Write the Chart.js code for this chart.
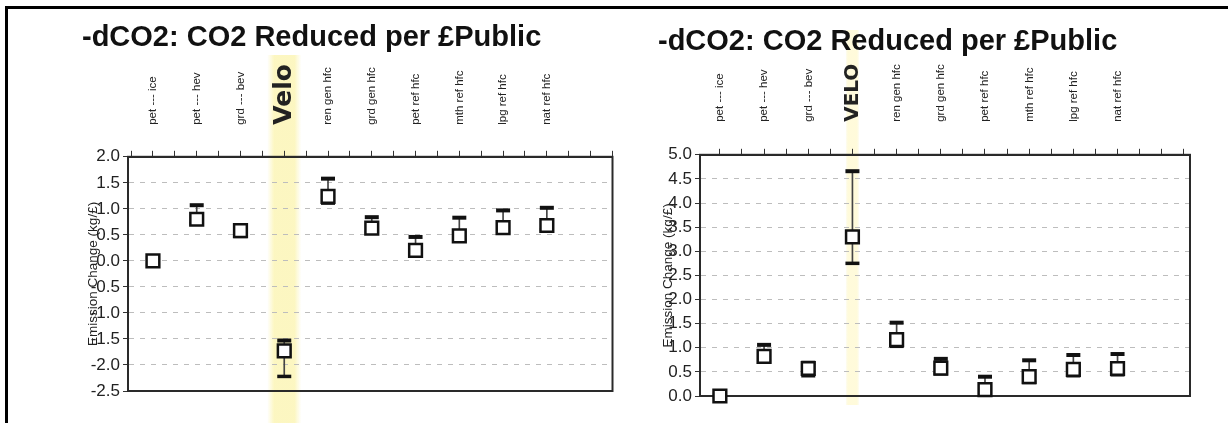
<!DOCTYPE html>
<html>
<head>
<meta charset="utf-8">
<script src="https://cdn.jsdelivr.net/npm/chart.js@4.4.1/dist/chart.umd.min.js"></script>
<style>
  html, body { margin: 0; padding: 0; background: #fff; }
  body { width: 1228px; height: 423px; position: relative; overflow: hidden; font-family: "Liberation Sans", Arial, sans-serif; }
  .frame { position: absolute; left: 5px; top: 6px; right: 0; bottom: 0; border-left: 3px solid #000; border-top: 3px solid #000; }
  .box { position: absolute; top: 10px; height: 413px; }
  #left { left: 10px; width: 614px; }
  #right { left: 614px; width: 614px; }
</style>
</head>
<body>
<div class="frame"></div>
<div class="box" id="left"><canvas id="chartLeft"></canvas></div>
<div class="box" id="right"><canvas id="chartRight"></canvas></div>

<script>
// --- DATA ---
const categoriesLeft = ['pet --- ice', 'pet --- hev', 'grd --- bev', 'Velo', 'ren gen hfc', 'grd gen hfc', 'pet ref hfc', 'mth ref hfc', 'lpg ref hfc', 'nat ref hfc'];
const categoriesRight = ['pet --- ice', 'pet --- hev', 'grd --- bev', 'VELO', 'ren gen hfc', 'grd gen hfc', 'pet ref hfc', 'mth ref hfc', 'lpg ref hfc', 'nat ref hfc'];

const leftMid  = [0.00, 0.80, 0.58, -1.73, 1.24, 0.63, 0.20, 0.48, 0.64, 0.68];
const leftHigh = [0.06, 1.07, 0.68, -1.53, 1.58, 0.84, 0.46, 0.83, 0.97, 1.02];
const leftLow  = [-0.07, 0.72, 0.47, -2.22, 1.11, 0.55, 0.12, 0.40, 0.55, 0.60];

const rightMid  = [0.00, 0.82, 0.57, 3.30, 1.17, 0.58, 0.13, 0.40, 0.55, 0.57];
const rightHigh = [0.03, 1.06, 0.69, 4.66, 1.52, 0.77, 0.40, 0.74, 0.85, 0.87];
const rightLow  = [-0.03, 0.72, 0.42, 2.75, 1.03, 0.46, 0.02, 0.28, 0.42, 0.44];

const chartTitle = '-dCO2: CO2 Reduced per £Public';
const yTitle = 'Emission Change (kg/£)';
const highlightIndex = 3;

// --- PLUGINS ---
const highlighter = {
  id: 'highlighter',
  beforeDraw(chart, args, opts) {
    const { ctx, scales: { x } } = chart;
    const cx = x.getPixelForValue(highlightIndex);
    const g = ctx.createLinearGradient(cx - opts.width / 2, 0, cx + opts.width / 2, 0);
    g.addColorStop(0, 'rgba(252,246,190,0)');
    g.addColorStop(0.2, opts.color);
    g.addColorStop(0.8, opts.color);
    g.addColorStop(1, 'rgba(252,246,190,0)');
    ctx.save();
    ctx.fillStyle = g;
    ctx.fillRect(cx - opts.width / 2, opts.top, opts.width, opts.bottom - opts.top);
    ctx.restore();
  }
};

const plotFrame = {
  id: 'plotFrame',
  beforeDatasetsDraw(chart) {
    const { ctx, chartArea: a } = chart;
    ctx.save();
    ctx.strokeStyle = '#2a2a2a';
    ctx.lineWidth = 2;
    ctx.strokeRect(a.left, a.top, a.right - a.left, a.bottom - a.top);
    ctx.restore();
  }
};

function makeChart(id, cats, mid, high, low, s) {
  const pts = arr => arr.map((v, i) => ({ x: i, y: v }));
  return new Chart(document.getElementById(id), {
    type: 'bar',
    data: {
      datasets: [
        { type: 'line', showLine: false, data: pts(mid), pointStyle: 'rect', pointRadius: s.box,
          pointBackgroundColor: '#fff', pointBorderColor: '#111', pointBorderWidth: 2.5, clip: false },
        { type: 'line', showLine: false, data: pts(high), pointStyle: 'line', pointRadius: 7,
          pointBorderColor: '#111', pointBorderWidth: 4, clip: false },
        { type: 'line', showLine: false, data: pts(low), pointStyle: 'line', pointRadius: 7,
          pointBorderColor: '#111', pointBorderWidth: 3.5, clip: false },
        { type: 'bar', data: low.map((v, i) => ({ x: i, y: [v, high[i]] })), backgroundColor: '#444',
          barThickness: 1, clip: false }
      ]
    },
    options: {
      responsive: true,
      maintainAspectRatio: false,
      animation: false,
      events: [],
      layout: { padding: s.pad },
      plugins: {
        legend: { display: false },
        tooltip: { enabled: false },
        title: {
          display: true, text: chartTitle, align: 'start', color: '#111',
          font: { family: 'Liberation Sans', size: 29, weight: 'bold' },
          padding: { top: s.titleTop, bottom: 0 }
        },
        highlighter: s.band
      },
      scales: {
        x: {
          type: 'linear', position: 'top', min: s.xMin, max: s.xMax, offset: false,
          afterFit: sc => { sc.height = s.xHeight; sc.paddingLeft = 0; sc.paddingRight = 0; },
          grid: { drawOnChartArea: false, drawTicks: true, tickLength: 6, tickColor: '#333', offset: false },
          border: { display: true, color: '#2a2a2a', width: 2 },
          ticks: {
            stepSize: 0.5, includeBounds: false, autoSkip: false, labelOffset: 14,
            minRotation: 90, maxRotation: 90, padding: s.labelPad, color: '#222',
            callback: v => Number.isInteger(v) && cats[v] ? cats[v] : '',
            font: c => c.tick && c.tick.value === highlightIndex
              ? { family: 'DejaVu Sans', size: s.markSize, weight: 'bold', lineHeight: 13.8 / s.markSize }
              : { family: 'Liberation Sans', size: 11.5, lineHeight: 1.2 }
          }
        },
        y: {
          min: s.yMin, max: s.yMax,
          afterFit: sc => { sc.width = s.yWidth; },
          grid: { color: '#bdbdbd', lineWidth: 1, tickLength: 5, tickColor: '#333' },
          border: { display: true, color: '#2a2a2a', width: 2, dash: [5, 6] },
          ticks: {
            stepSize: 0.5, padding: 3, color: '#222',
            font: { family: 'Liberation Sans', size: 17 },
            callback: v => v.toFixed(1)
          },
          title: {
            display: true, text: yTitle, color: '#222',
            font: { family: 'Liberation Sans', size: 13.5 },
            padding: { top: s.yTitleTop, bottom: 0 }
          }
        }
      }
    },
    plugins: [highlighter, plotFrame]
  });
}

makeChart('chartLeft', categoriesLeft, leftMid, leftHigh, leftLow, {
  pad: { left: 72, right: 2, top: 0, bottom: 32 },
  titleTop: 11, xHeight: 101, yWidth: 46, labelPad: 26, box: 9, markSize: 25,
  xMin: -0.57, xMax: 10.5, yMin: -2.5, yMax: 2, yTitleTop: 3,
  band: { width: 34, top: 45, bottom: 413, color: 'rgba(252,246,190,0.95)' }
});

makeChart('chartRight', categoriesRight, rightMid, rightHigh, rightLow, {
  pad: { left: 44, right: 38, top: 0, bottom: 27 },
  titleTop: 15, xHeight: 95, yWidth: 42, labelPad: 27, box: 9, markSize: 20,
  xMin: -0.45, xMax: 10.64, yMin: 0, yMax: 5, yTitleTop: 2,
  band: { width: 14, top: 20, bottom: 395, color: 'rgba(255,250,215,0.9)' }
});
</script>
</body>
</html>
